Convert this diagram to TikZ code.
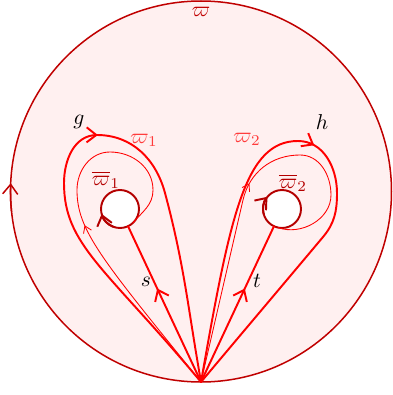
\documentclass[tikz,border=0pt]{standalone}
\usepackage{amsmath,amssymb}
\usepackage{xcolor}
\usepackage{tikz}
\usetikzlibrary{arrows.meta,decorations.markings}
\definecolor{dkRim}{HTML}{C00000}
\definecolor{dkFill}{HTML}{FFF0F0}
\definecolor{dkLoop}{HTML}{FF0000}
\definecolor{dkHole}{HTML}{B40000}
\definecolor{dkSoft}{HTML}{FF3B3B}
\tikzset{
  dk diagram/.style={x=0.465pt, y=0.465pt, line cap=round, line join=round},
  dk disk/.style={circle, draw=dkRim, fill=dkFill, line width=0.7pt,
    minimum size=381*0.465pt, inner sep=0pt, outer sep=0pt},
  dk hole/.style={circle, draw=dkHole, fill=white, line width=0.9pt,
    minimum size=38*0.465pt, inner sep=0pt, outer sep=0pt},
  dk loop/.style={draw=dkLoop, line width=0.9pt},
  dk thin/.style={draw=dkLoop, line width=0.4pt},
  dk tip/.style={-{Straight Barb[length=4.5pt,width=7pt]}},
  dk mark/.style={postaction={decorate}, decoration={markings,
    mark=at position #1 with {\arrow{Straight Barb[length=4.5pt,width=7pt]}}}},
  dk small mark/.style={postaction={decorate}, decoration={markings,
    mark=at position #1 with {\arrow{Straight Barb[length=3pt,width=4pt]}}}},
  dk label/.style={inner sep=1pt}
}

\begin{document}
\begin{tikzpicture}[dk diagram]
\useasboundingbox (0,0) rectangle (393,395);
\node[dk disk] (disk) at (201,203.5) {};
\coordinate (base) at (disk.south);
\draw[draw=dkRim, line width=0.7pt, dk tip] (disk.186) arc[start angle=186, end angle=177.5, radius=190.5];
\node[dk hole] (w1) at (120,186) {};
\node[dk hole] (w2) at (282,186) {};
% loops g and h
\draw[dk loop, dk mark=0.52] (base) .. controls (105,128) and (64,150) .. (64,212)
  to[out=90,in=180] (97,260) to[out=0,in=105] (165,202) to[out=-75,in=100] (base);
\draw[dk loop, dk mark=0.5] (base) .. controls (230.5,180.4) and (245,254) .. (298,254)
  to[out=0,in=90] (337,202) to[out=-90,in=50] (323,158) to[out=-130,in=50] (base);
% thin loops round the holes
\draw[dk thin, dk small mark=0.5] (base) .. controls (100.3,137.3) and (77,165) .. (77,205)
  to[out=90,in=180] (110,243) to[out=0,in=90] (153,205) to[out=-90,in=50] (w1.-47);
\draw[dk thin, dk small mark=0.52] (base) to[out=77,in=-103] (243,195)
  to[out=77,in=180] (300,240) to[out=0,in=90] (331,200) to[out=-90,in=-20] (w2.-102);
% paths s and t
\draw[dk loop, dk mark=0.6] (base) -- (w1.-65);
\draw[dk loop, dk mark=0.6] (base) -- (w2.-115);
\draw[draw=dkHole, line width=0.9pt, dk tip] (w1.250) arc[start angle=250, end angle=195, radius=19];
\draw[draw=dkHole, line width=0.9pt, dk tip] (w2.195) arc[start angle=195, end angle=140, radius=19];
% labels
\node[dk label, text=dkRim] (wname) at (201,383) {$\varpi$};
\node[dk label] (gname) at (79,273) {$g$};
\node[dk label, text=dkSoft] (w1name) at (144,255) {$\varpi_1$};
\node[dk label, text=dkHole] (w1bar) at (106,215) {$\overline{\varpi}_1$};
\node[dk label, text=dkSoft] (w2name) at (247,256) {$\varpi_2$};
\node[dk label] (hname) at (322,273) {$h$};
\node[dk label, text=dkHole] (w2bar) at (293,212) {$\overline{\varpi}_2$};
\node[dk label] (sname) at (146,113) {$s$};
\node[dk label] (tname) at (257,114) {$t$};
\end{tikzpicture}
\end{document}
